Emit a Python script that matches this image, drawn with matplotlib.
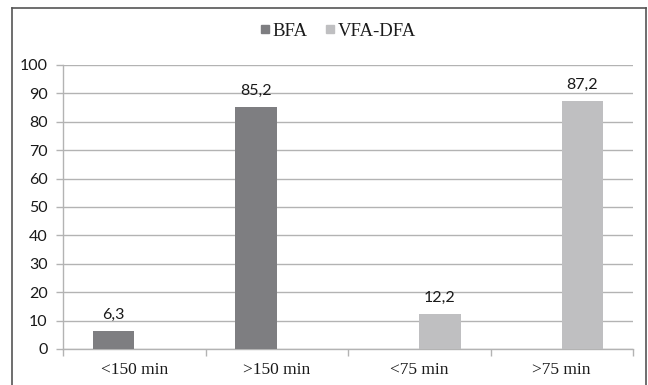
import matplotlib
matplotlib.use("Agg")
import matplotlib.pyplot as plt
from matplotlib.lines import Line2D
import numpy as np

categories = ["<150 min", ">150 min", "<75 min", ">75 min"]
series_names = ["BFA", "VFA-DFA"]
bfa_values = [6.3, 85.2, None, None]
vfa_dfa_values = [None, None, 12.2, 87.2]
y_ticks = [0, 10, 20, 30, 40, 50, 60, 70, 80, 90, 100]

colors = ["#7e7e81", "#bfbfc1"]
grid_color = "#b3b3b3"
num_font = "Lato"
cat_font = "Liberation Serif"

fig = plt.figure(figsize=(6.48, 3.85), dpi=100)
ax = fig.add_axes([63 / 648, 1 - 349 / 385, (633 - 63) / 648, (349 - 65) / 385])

x = np.arange(len(categories))
width = 0.29
offsets = [-width / 2, width / 2]

for vals, off, col, name in zip([bfa_values, vfa_dfa_values], offsets, colors, series_names):
    for xi, v in zip(x, vals):
        if v is None:
            continue
        ax.bar(xi + off, v, width=width, color=col, zorder=3)
        ax.annotate(f"{v:.1f}".replace(".", ","), xy=(xi + off, v), xytext=(0, 9),
                    textcoords="offset points", ha="center", va="baseline",
                    fontsize=11.5, family=num_font, color="#1a1a1a")

ax.set_xlim(-0.5, len(categories) - 0.5)
ax.set_ylim(0, 100)
ax.set_yticks(y_ticks)
ax.set_yticklabels([str(t) for t in y_ticks], family=num_font, fontsize=11.5, color="#1a1a1a")
ax.yaxis.grid(True, color=grid_color, linewidth=1.0, zorder=0)
ax.set_axisbelow(True)

ax.set_xticks(x)
ax.set_xticklabels(categories, family=cat_font, fontsize=12.5, color="#1a1a1a")
ax.set_xticks(np.arange(len(categories) + 1) - 0.5, minor=True)
ax.tick_params(axis="x", which="major", length=0, pad=9)
ax.tick_params(axis="x", which="minor", length=5, color=grid_color, width=1.0)
ax.tick_params(axis="y", length=5, color=grid_color, width=1.0, pad=6)

for s in ["top", "right"]:
    ax.spines[s].set_visible(False)
for s in ["left", "bottom"]:
    ax.spines[s].set_color(grid_color)
    ax.spines[s].set_linewidth(1.0)

handles = [Line2D([], [], marker="s", linestyle="none", markersize=5.2,
                  markerfacecolor=c, markeredgecolor=c) for c in colors]
fig.legend(handles, series_names, loc="center", bbox_to_anchor=(338 / 648, 1 - 31 / 385),
           ncol=2, frameon=False, prop={"family": cat_font, "size": 13.5},
           handletextpad=0.2, columnspacing=0.9, handlelength=0.5,
           labelcolor="#1a1a1a")

# outer frame of the chart area
frame_color = "#555555"
fig.add_artist(Line2D([12 / 648, 12 / 648], [0, 1 - 8 / 385], color=frame_color, linewidth=1.2))
fig.add_artist(Line2D([12 / 648, 646 / 648], [1 - 8 / 385, 1 - 8 / 385], color=frame_color, linewidth=1.2))
fig.add_artist(Line2D([646 / 648, 646 / 648], [0, 1 - 8 / 385], color=frame_color, linewidth=1.2))

fig.savefig("out.png", dpi=100, facecolor="white")
